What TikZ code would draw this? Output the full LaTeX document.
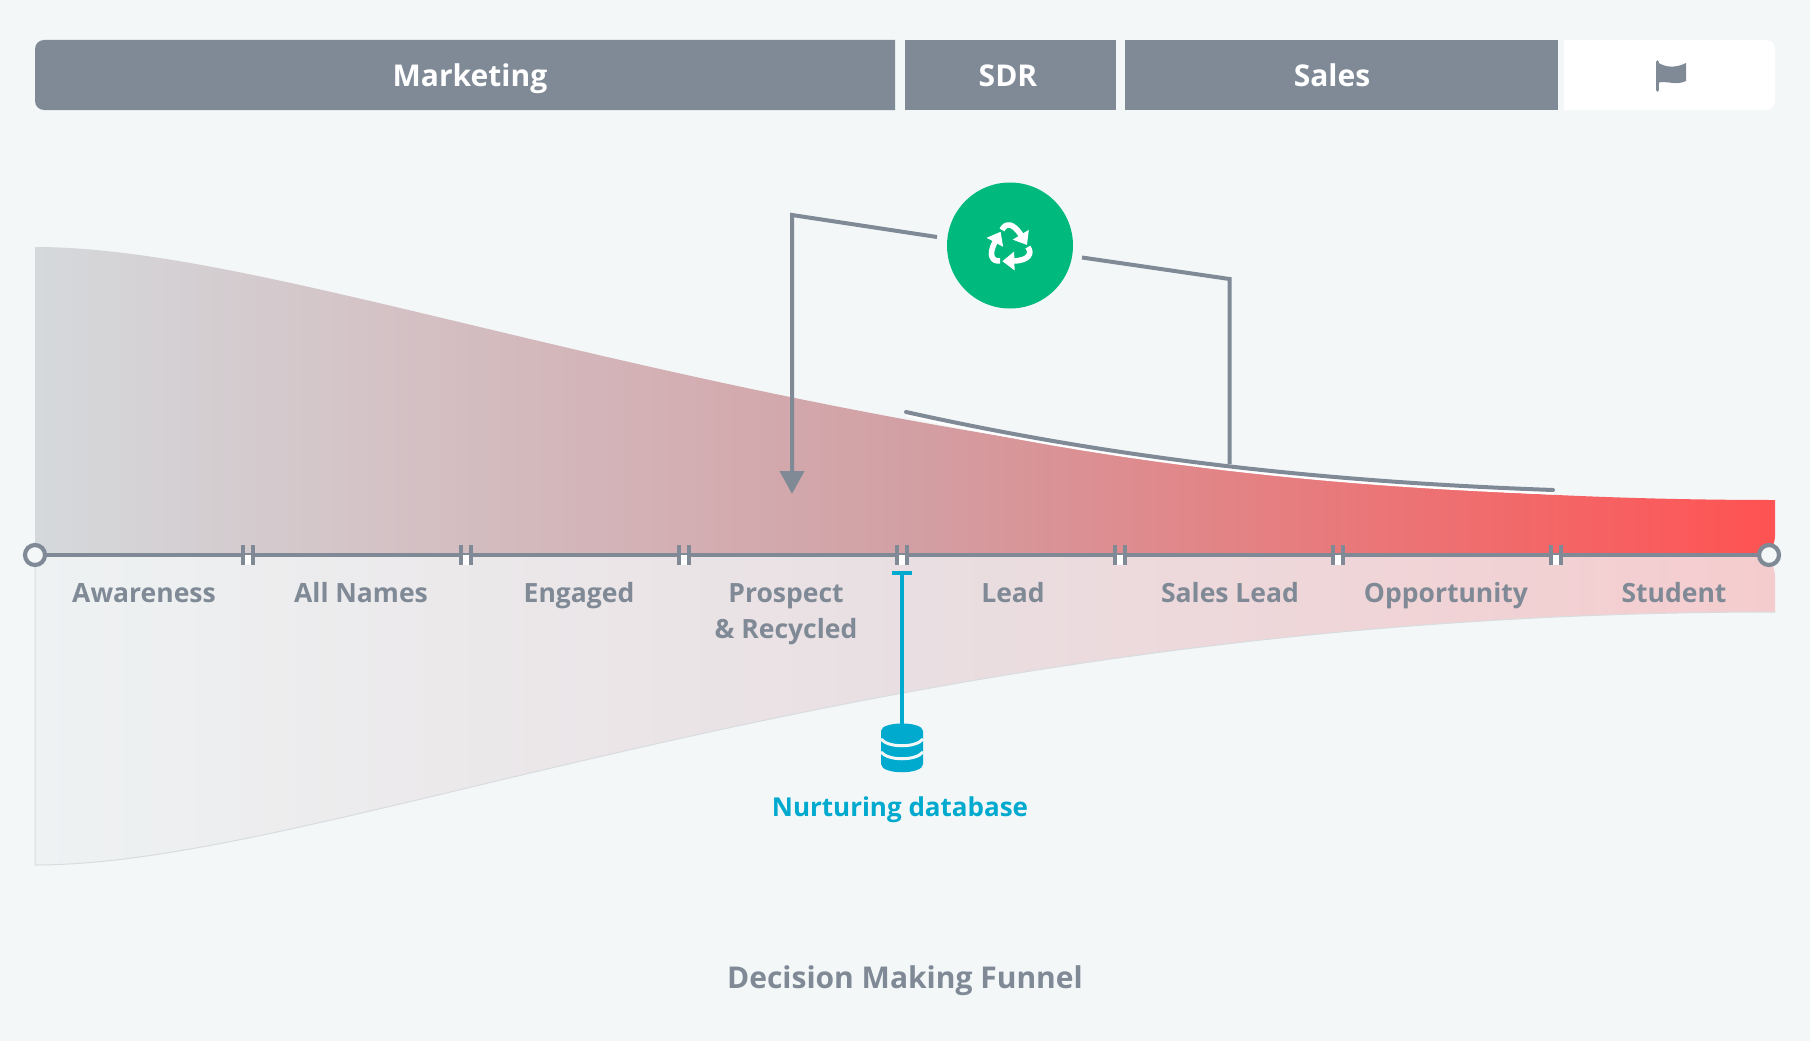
\documentclass[tikz,border=0pt]{standalone}
\usepackage{fontspec}
\setsansfont{Open Sans}
\renewcommand{\familydefault}{\sfdefault}
\usetikzlibrary{
  arrows.meta,
  positioning
}
\definecolor{pagebg}{HTML}{F3F7F8}
\definecolor{slategrey}{HTML}{7F8A96}
\definecolor{recyclegreen}{HTML}{00B97C}
\definecolor{nurtureblue}{HTML}{00A9CE}
\definecolor{upperleft}{HTML}{D5D9DC}
\definecolor{uppermid}{HTML}{D2A0A4}
\definecolor{upperright}{HTML}{FF5252}
\definecolor{lowerleft}{HTML}{EEF2F3}
\definecolor{lowermid}{HTML}{E9DFE2}
\definecolor{lowerright}{HTML}{F5CCCE}
\definecolor{loweredge}{HTML}{D9DCDF}
\tikzset{
  phasebar/.style={font=\fontsize{30}{36}\selectfont\bfseries, text=white, inner sep=0pt, anchor=base},
  stagelabel/.style={font=\fontsize{26.5}{36}\selectfont\bfseries, text=slategrey, align=center, inner sep=0pt, anchor=base},
  axisend/.style={circle, draw=slategrey, fill=pagebg, line width=4.2pt, minimum size=20pt, inner sep=0pt},
  axisline/.style={draw=slategrey, line width=4pt},
  greyline/.style={draw=slategrey, line width=4pt},
  looparrow/.style={-{Triangle[length=23pt, width=24pt]}, draw=slategrey, line width=4pt},
  recycletip/.style={-{Triangle[length=12pt, width=18pt]}, draw=white, line width=5.6pt},
}

\begin{document}
\begin{tikzpicture}[x=1pt, y=-1pt]

\fill[pagebg] (0,0) rectangle (1810,1041);

% Phase bars
\fill[slategrey] (895,40) -- (895,110) [rounded corners=9pt] -- (35,110) -- (35,40) [sharp corners] -- cycle;
\fill[slategrey] (905,40) rectangle (1116,110);
\fill[slategrey] (1125,40) rectangle (1558,110);
\fill[white] (1564,40) [rounded corners=9pt] -- (1775,40) -- (1775,110) [sharp corners] -- (1564,110) -- cycle;
\node[phasebar] (marketing) at (470,87) {Marketing};
\node[phasebar] (sdr) at (1008,87) {SDR};
\node[phasebar] (sales) at (1332,87) {Sales};

% Flag
\fill[slategrey] (1657,62) .. controls (1666,68) and (1676,68) .. (1686,63) -- (1686,81) .. controls (1676,86) and (1666,80) .. (1657,83) -- cycle;
\draw[slategrey, line width=3.6pt, line cap=round] (1657.5,62) -- (1657.5,90);

% Funnel
\shade[left color=lowerleft, right color=lowerright, middle color=lowermid]
  (35,555) -- (35,865) .. controls (335,865) and (875,612) .. (1775,612) -- (1775,576) .. controls (1775,566) and (1768,555) .. (1755,555) -- cycle;
\draw[loweredge, line width=1pt] (35,555) -- (35,865) .. controls (335,865) and (875,612) .. (1775,612);
\shade[left color=upperleft, right color=upperright, middle color=uppermid]
  (35,555) -- (35,247) .. controls (335,247) and (875,500) .. (1775,500) -- (1775,536) .. controls (1775,546) and (1768,555) .. (1755,555) -- cycle;

% Axis
\node[axisend] (axisstart) at (35,555) {};
\node[axisend] (axisstop) at (1769,555) {};
\draw[axisline] (axisstart) -- (axisstop);
\foreach \tx in {248,466,684,902,1120,1338,1556} {
  \fill[white] (\tx-5,555) rectangle (\tx+5,565);
  \fill[slategrey] (\tx-7,545) rectangle (\tx-3,565);
  \fill[slategrey] (\tx+3,545) rectangle (\tx+7,565);
}

% Stage labels
\node[stagelabel] (awareness) at (144,602) {Awareness};
\node[stagelabel] (allnames) at (361,602) {All Names};
\node[stagelabel] (engaged) at (579,602) {Engaged};
\node[stagelabel] (prospect) at (786,602) {Prospect};
\node[stagelabel] (recycled) at (786,638) {\& Recycled};
\node[stagelabel] (lead) at (1013,602) {Lead};
\node[stagelabel] (saleslead) at (1230,602) {Sales Lead};
\node[stagelabel] (opportunity) at (1446,602) {Opportunity};
\node[stagelabel] (student) at (1674,602) {Student};

% Recycle loop
\node[circle, fill=recyclegreen, minimum size=126pt, inner sep=0pt] (recycle) at (1010,245.5) {};
\foreach \ang in {0,120,240} {
  \draw[recycletip, rotate around={\ang:(1010,246)}] (1002,230) .. controls (1005,223) and (1013,222) .. (1027,245);
}
\coordinate (loopleft) at (937,237);
\coordinate (loopright) at (1082,257.5);
\coordinate (bendleft) at (792,215);
\coordinate (bendright) at (1229.5,279);
\coordinate (looptip) at (792,494);
\coordinate (curvestart) at (906,412);
\coordinate (curvestop) at (1553,490);
\coordinate (curvejoin) at (1229.5,464);
\draw[white, line width=3pt] (906,415) .. controls (1100,458) and (1300,484) .. (1553,493);
\draw[greyline, line cap=round] (curvestart) .. controls (1100,455) and (1300,481) .. (curvestop);
\draw[greyline] (loopright) -- (bendright) -- (curvejoin);
\draw[looparrow] (loopleft) -- (bendleft) -- (looptip);

% Nurturing database
\coordinate (dbbar) at (902,573);
\coordinate (dbtop) at (902,726);
\draw[nurtureblue, line width=4.4pt] (dbbar) -- (dbtop);
\fill[nurtureblue] (892,571) rectangle (912,575);
\fill[nurtureblue] (881,731) .. controls (881,721) and (923,721) .. (923,731) -- (923,764) .. controls (923,775) and (881,775) .. (881,764) -- cycle;
\draw[pagebg, line width=3pt] (881,739) .. controls (888,748) and (916,748) .. (923,739);
\draw[pagebg, line width=3pt] (881,752) .. controls (888,761) and (916,761) .. (923,752);
\node[font=\fontsize{26}{30}\selectfont\bfseries, text=nurtureblue, inner sep=0pt, anchor=base] (nurture) at (900,816) {Nurturing database};

% Title
\node[font=\fontsize{30}{36}\selectfont\bfseries, text=slategrey, inner sep=0pt, anchor=base] (title) at (905,988.5) {Decision Making Funnel};

\end{tikzpicture}
\end{document}
